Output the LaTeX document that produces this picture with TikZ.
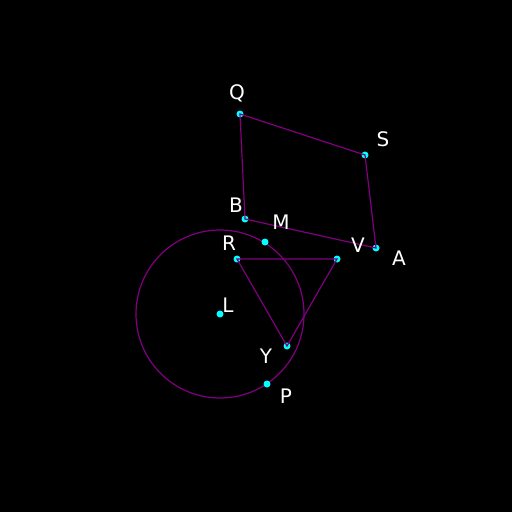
\documentclass[tikz,border=0pt]{standalone}
\usepackage{fontspec}
\setmainfont{DejaVu Sans}
\definecolor{ln}{HTML}{800080}
\definecolor{pt}{HTML}{00FFFF}
\tikzset{
  dot/.style={circle,fill=pt,inner sep=0pt,minimum size=7pt},
  lbl/.style={text=white,font=\fontsize{20}{20}\selectfont,inner sep=0pt},
  edge/.style={draw=ln,line width=1.2pt}
}
\begin{document}
\begin{tikzpicture}[x=1pt,y=-1pt]
\fill[black] (0,0) rectangle (512,512);
\useasboundingbox (0,0) rectangle (512,512);
\coordinate (Lc) at (220,314);
\draw[edge] (Lc) circle (84);
\node[dot] (Q) at (240,114) {};
\node[dot] (S) at (365,155) {};
\node[dot] (A) at (376,248) {};
\node[dot] (B) at (245,219) {};
\node[dot] (M) at (265,242) {};
\node[dot] (V) at (337,259) {};
\node[dot] (R) at (237,259) {};
\node[dot] (Y) at (287,346) {};
\node[dot] (L) at (Lc) {};
\node[dot] (P) at (267,384) {};
\draw[edge] (Q.center) -- (S.center) -- (A.center) -- (B.center) -- cycle;
\draw[edge] (R.center) -- (V.center) -- (Y.center) -- cycle;
\node[lbl] (lQ) at (237,93) {Q};
\node[lbl] (lS) at (383,139) {S};
\node[lbl] (lB) at (236,205) {B};
\node[lbl] (lM) at (281,222) {M};
\node[lbl] (lV) at (358,245) {V};
\node[lbl] (lA) at (399,258) {A};
\node[lbl] (lR) at (229,243) {R};
\node[lbl] (lL) at (228,305) {L};
\node[lbl] (lY) at (266,356) {Y};
\node[lbl] (lP) at (286,396) {P};
\end{tikzpicture}
\end{document}
